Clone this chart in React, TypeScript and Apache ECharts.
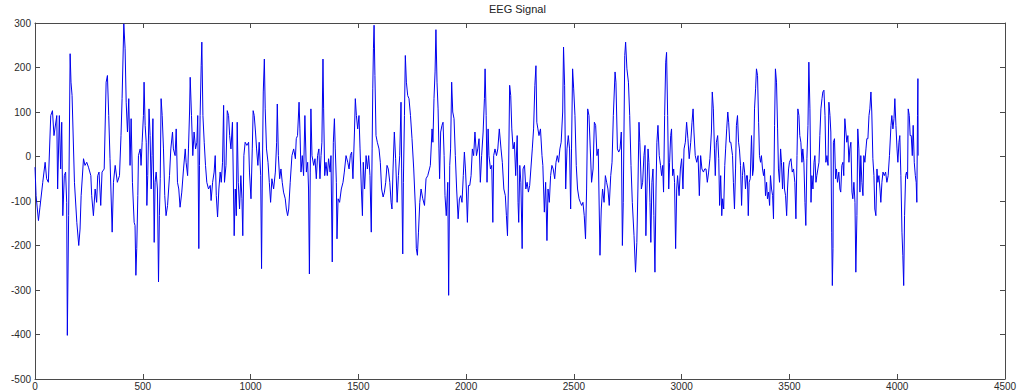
import React, { useEffect, useRef } from "react";
import * as echarts from "echarts";

// EEG samples: [sample index, amplitude]
const eegPart1: [number, number][] = [
  [0,-24],[5,-88],[16,-144],[23,-114],[36,-58],[47,-13],[54,-50],[62,-58],[73,92],[81,103],
  [88,47],[101,92],[105,-73],[113,92],[119,-28],[124,77],[129,-133],[136,-43],[142,-35],[147,-103],
  [150,-402],[156,-133],[163,231],[167,167],[172,137],[183,-58],[194,-148],[203,-200],[209,-163],[214,-88],
  [225,-5],[232,-20],[240,-13],[248,-24],[259,-43],[263,-88],[271,-133],[279,-73],[286,-103],[291,-43],
  [297,-35],[305,-110],[311,-35],[321,-28],[330,167],[336,182],[342,92],[348,-5],[358,-170],[364,-58],
  [372,-20],[382,-58],[392,-43],[399,47],[404,130],[412,298],[418,242],[423,122],[429,55],[435,130],
  [441,-20],[446,85],[452,-58],[460,-148]
];
const eegPart2: [number, number][] = [
  [464,-155],[468,-267],[472,-207],[477,-88],[480,2],[488,17],[492,-20],[497,32],[503,92],[506,167],
  [511,70],[516,32],[519,-110],[523,-43],[529,107],[534,47],[539,-73],[543,2],[547,85],[553,-193],
  [557,-58],[562,-35],[568,-73],[573,-282],[577,-133],[581,-50],[585,130],[590,92],[596,17],[602,-88],
  [608,-133],[615,-110],[624,-43],[630,17],[638,55],[642,17],[650,2],[655,62],[661,-58],[667,-73],
  [673,-114],[681,-80],[689,-28],[697,17],[701,-13],[708,-43],[712,17],[717,100],[720,178],[726,92],
  [732,2],[738,55],[745,17],[751,32],[755,92],[760,-207],[763,-20],[766,92],[771,204],[774,257],
  [779,92],[785,32],[791,-20],[797,-58],[805,-73],[813,-65],[817,-99],[824,-58],[831,-35],[836,2],
  [841,-88],[847,-136],[853,-73],[859,-35],[864,-58],[870,-13],[875,115],[879,-58],[886,-20],[892,103],
  [898,92],[903,47],[909,17],[916,77],[924,-178]
];
const eegPart3: [number, number][] = [
  [929,-73],[934,-133],[938,77],[943,-58],[949,-118],[955,-43],[960,-95],[964,-178],[969,2],[975,32],
  [983,25],[991,32],[995,-35],[1002,-95],[1008,17],[1012,103],[1017,92],[1023,55],[1028,17],[1034,-20],
  [1040,32],[1047,-43],[1051,-252],[1054,-73],[1059,145],[1064,219],[1068,107],[1074,17],[1081,-13],[1087,-58],
  [1093,-103],[1099,-50],[1107,-73],[1115,-35],[1121,32],[1124,118],[1129,2],[1135,-50],[1141,-28],[1147,-58],
  [1153,-80],[1161,-95],[1166,-118],[1172,-133],[1177,-118],[1184,-58],[1192,2],[1200,17],[1208,-5],[1212,40],
  [1218,47],[1225,122],[1229,62],[1234,-35],[1240,2],[1246,-43],[1252,92],[1259,-35],[1265,-13],[1269,-73],
  [1273,-264],[1277,-35],[1280,107],[1285,2],[1293,-20],[1299,-5],[1305,-50],[1311,2],[1317,17],[1322,-50],
  [1327,2],[1331,32],[1336,219],[1339,107],[1344,-43],[1350,-13],[1356,-43],[1362,-5],[1369,-35],[1373,2],
  [1379,-237],[1384,32]
];
const eegPart4: [number, number][] = [
  [1389,85],[1393,17],[1398,-58],[1401,-185],[1406,-95],[1413,-103],[1421,-73],[1429,-58],[1435,-35],[1443,2],
  [1451,-13],[1457,-28],[1463,2],[1469,10],[1475,-50],[1482,55],[1486,130],[1491,92],[1497,62],[1503,92],
  [1508,17],[1514,-73],[1519,-133],[1523,-13],[1529,-73],[1536,2],[1542,-28],[1548,2],[1554,-43],[1560,-170],
  [1564,17],[1567,152],[1570,242],[1573,295],[1577,182],[1582,47],[1588,32],[1596,17],[1602,-13],[1608,-73],
  [1615,-91],[1621,-80],[1627,-58],[1633,-20],[1639,-28],[1646,-58],[1652,-103],[1656,-118],[1661,-28],[1667,55],
  [1673,-5],[1680,-103],[1686,-43],[1692,2],[1698,122],[1701,-28],[1706,-219],[1709,-58],[1714,92],[1718,227],
  [1723,167],[1729,137],[1735,130],[1742,92],[1749,40],[1757,-28],[1765,-118],[1769,-207],[1774,-222],[1779,-170],
  [1785,-103],[1791,-73],[1799,-95],[1807,-110],[1814,-50],[1822,-43],[1830,-28]
];
const eegPart5: [number, number][] = [
  [1834,-20],[1842,62],[1846,32],[1851,130],[1856,190],[1860,285],[1865,167],[1870,107],[1874,17],[1877,-50],
  [1882,55],[1888,70],[1893,77],[1898,2],[1902,-88],[1908,-133],[1915,-58],[1919,-312],[1924,-20],[1928,17],
  [1933,167],[1938,100],[1944,85],[1950,2],[1956,-73],[1963,-140],[1969,-95],[1975,-88],[1981,-103],[1987,-43],
  [1992,10],[1997,-28],[2001,-73],[2006,-148],[2011,-65],[2017,-65],[2023,-43],[2029,17],[2035,2],[2041,55],
  [2048,2],[2054,17],[2060,40],[2066,-58],[2072,2],[2079,55],[2085,130],[2088,197],[2093,92],[2097,-58],
  [2102,62],[2106,2],[2113,-28],[2119,-20],[2124,-148],[2128,2],[2134,17],[2141,2],[2147,17],[2154,62],
  [2162,17],[2168,-13],[2175,-73],[2182,-88],[2187,-133],[2192,-178],[2196,-73],[2202,160],[2207,137],[2212,62],
  [2218,17],[2224,32],[2230,-43],[2237,47],[2241,-103],[2244,-148],[2249,-20],[2254,-58],[2260,-207],[2264,-28],
  [2271,-20],[2277,-73],[2283,-58],[2289,-80],[2295,-65]
];
const eegPart6: [number, number][] = [
  [2307,17],[2313,62],[2319,160],[2324,204],[2328,77],[2333,62],[2338,47],[2345,62],[2352,2],[2356,-20],
  [2363,-125],[2369,-58],[2375,-189],[2380,-73],[2386,-103],[2392,-43],[2398,-20],[2404,-28],[2411,-50],[2417,-13],
  [2423,2],[2429,-13],[2435,17],[2441,32],[2448,100],[2452,246],[2457,160],[2462,-73],[2468,17],[2474,47],
  [2480,17],[2485,-118],[2489,17],[2494,197],[2499,152],[2505,92],[2511,-20],[2517,-73],[2524,-95],[2530,-103],
  [2536,-110],[2542,-103],[2548,-133],[2554,-185],[2559,-73],[2564,107],[2570,92],[2576,17],[2582,-58],[2589,-28],
  [2595,77],[2601,70],[2607,2],[2613,17],[2621,-222],[2627,-118],[2633,-73],[2640,-103],[2646,-43],[2652,-58],
  [2658,-73],[2664,-110],[2671,-43],[2677,-13],[2683,92],[2691,190],[2695,167],[2702,17],[2708,10],[2714,17],
  [2720,55],[2725,-200],[2729,-103],[2736,227],[2740,257],[2746,197],[2753,167],[2759,92],[2765,-20],[2771,-103],
  [2779,-178]
];
const eegPart7: [number, number][] = [
  [2786,-260],[2792,-193],[2797,-73],[2802,77],[2806,32],[2813,-73],[2819,-58],[2825,2],[2830,25],[2834,-178],
  [2839,-73],[2844,17],[2848,-13],[2853,-103],[2857,-193],[2862,-58],[2867,-28],[2871,-133],[2876,-260],[2881,-73],
  [2885,32],[2890,70],[2896,2],[2902,-20],[2907,-43],[2912,-20],[2916,-80],[2921,92],[2926,212],[2930,234],
  [2935,92],[2940,-73],[2944,-13],[2949,47],[2953,62],[2958,-43],[2963,-28],[2967,-58],[2972,-207],[2977,-73],
  [2981,-43],[2988,-88],[2994,-28],[3000,-5],[3006,-73],[3011,17],[3017,32],[3023,77],[3029,40],[3035,-5],
  [3042,32],[3048,77],[3053,107],[3057,55],[3063,2],[3070,-13],[3076,2],[3082,-88],[3088,2],[3094,-28],
  [3101,-35],[3107,-28],[3113,-28],[3119,-58],[3125,-35],[3131,-5],[3138,55],[3142,145],[3147,107],[3152,17],
  [3156,-43],[3161,32],[3167,47],[3172,-5],[3176,-110],[3181,-43],[3186,-133],[3190,-95],[3195,-118],[3200,-20],
  [3204,17],[3209,62],[3214,100],[3218,77],[3223,32]
];
const eegPart8: [number, number][] = [
  [3228,32],[3236,2],[3240,-58],[3245,-118],[3250,-28],[3254,70],[3259,92],[3264,32],[3268,17],[3273,-20],
  [3278,-110],[3282,-43],[3287,-13],[3292,-35],[3296,-73],[3301,-43],[3305,-43],[3309,-133],[3313,-58],[3318,-50],
  [3324,47],[3329,-43],[3333,-28],[3338,107],[3343,152],[3347,197],[3352,182],[3357,77],[3361,2],[3366,-13],
  [3370,2],[3375,-28],[3380,-43],[3384,-28],[3389,-88],[3394,-58],[3398,-95],[3403,-80],[3408,-110],[3412,-43],
  [3417,-73],[3422,-88],[3426,-140],[3431,70],[3435,197],[3440,167],[3445,62],[3449,-28],[3454,-58],[3459,17],
  [3463,-13],[3468,-73],[3473,-13],[3477,-73],[3482,-88],[3487,-133],[3491,-73],[3496,-28],[3500,-13],[3507,-5],
  [3513,-35],[3519,-28],[3525,-58],[3530,-140],[3535,2],[3539,107],[3544,92],[3548,47],[3553,32],[3558,-13],
  [3562,17],[3567,-13],[3572,-103],[3576,-155],[3581,-5],[3586,70],[3590,212],[3595,107],[3600,-103],[3604,-43],
  [3609,-73],[3614,-13],[3618,2],[3623,-58],[3627,-43],[3632,-28],[3637,-13],[3641,47],[3646,107],[3651,130],
  [3655,145],[3660,149],[3665,92],[3669,-13],[3674,2],[3679,-20],[3683,122],[3688,92],[3692,55],[3696,-170],
  [3699,-290],[3702,-207]
];
const eegPart9: [number, number][] = [
  [3704,32],[3709,40],[3714,-50],[3718,-28],[3723,-58],[3729,-35],[3734,-73],[3738,-80],[3743,-20],[3748,-13],
  [3752,-43],[3757,85],[3762,55],[3766,32],[3771,47],[3776,-13],[3780,17],[3785,32],[3790,-80],[3794,-95],
  [3799,-58],[3804,-103],[3808,-260],[3813,-133],[3817,62],[3822,17],[3827,-80],[3831,2],[3836,-58],[3841,-88],
  [3845,2],[3850,-13],[3855,17],[3859,40],[3864,40],[3869,92],[3873,107],[3878,145],[3882,100],[3887,-5],
  [3892,-43],[3896,-118],[3901,-133],[3906,-28],[3910,-58],[3915,-43],[3920,-73],[3924,-103],[3929,-58],[3934,-35],
  [3940,-43],[3946,-35],[3952,-58],[3958,-43],[3964,2],[3971,70],[3975,92],[3980,62],[3985,85],[3989,130],
  [3994,70],[3999,17],[4003,-13],[4008,32],[4012,47],[4017,-43],[4022,-170],[4026,-222],[4030,-290],[4034,-133],
  [4039,-43],[4043,-35],[4048,-50],[4051,107],[4056,92],[4060,47],[4065,47],[4070,2],[4074,70],[4079,-13],
  [4084,-43],[4088,-58],[4091,-103],[4094,92],[4096,175],[4097,2]
];

const xMin = 0, xMax = 4500, xStep = 500;
const yMin = -500, yMax = 300, yStep = 100;
const titleText = "EEG Signal";

const FONT = "'Liberation Sans', Arial, Helvetica, sans-serif";

export default function App() {
  const ref = useRef<HTMLDivElement>(null);
  useEffect(() => {
    if (!ref.current) return;
    const chart = echarts.init(ref.current, undefined, { renderer: "svg" });
    const data = [
      ...eegPart1, ...eegPart2, ...eegPart3, ...eegPart4, ...eegPart5,
      ...eegPart6, ...eegPart7, ...eegPart8, ...eegPart9,
    ];
    const axisLine = { show: true, onZero: false, lineStyle: { color: "#4a4a4a", width: 1 } };
    const tick = { show: true, inside: true, length: 5, lineStyle: { color: "#4a4a4a" } };
    const label = {
      fontSize: 10, color: "#2a2a2a", fontFamily: FONT,
      formatter: (v: number) => String(v),
    };
    chart.setOption({
      animation: false,
      backgroundColor: "#ffffff",
      title: {
        text: titleText,
        left: 489,
        top: 3,
        padding: 0,
        textStyle: { fontSize: 11, fontWeight: "normal", color: "#222", fontFamily: FONT },
      },
      grid: { left: 35, right: 17, top: 23, bottom: 12, containLabel: false },
      xAxis: [
        {
          type: "value", min: xMin, max: xMax, interval: xStep, position: "bottom",
          axisLine, axisTick: tick, splitLine: { show: false },
          axisLabel: { ...label, margin: 2 },
        },
        {
          type: "value", min: xMin, max: xMax, interval: xStep, position: "top",
          axisLine, axisTick: tick, splitLine: { show: false },
          axisLabel: { show: false },
        },
      ],
      yAxis: [
        {
          type: "value", min: yMin, max: yMax, interval: yStep, position: "left",
          axisLine, axisTick: tick, splitLine: { show: false },
          axisLabel: { ...label, margin: 4 },
        },
        {
          type: "value", min: yMin, max: yMax, interval: yStep, position: "right",
          axisLine, axisTick: tick, splitLine: { show: false },
          axisLabel: { show: false },
        },
      ],
      series: [
        {
          type: "line",
          xAxisIndex: 0,
          yAxisIndex: 0,
          data,
          showSymbol: false,
          lineStyle: { color: "#0000ee", width: 1 },
          emphasis: { disabled: true },
        },
      ],
    });
    return () => chart.dispose();
  }, []);
  return (
    <div
      ref={ref}
      style={{ position: "absolute", left: 0, top: 0, width: 1022, height: 391, background: "#fff" }}
    />
  );
}
